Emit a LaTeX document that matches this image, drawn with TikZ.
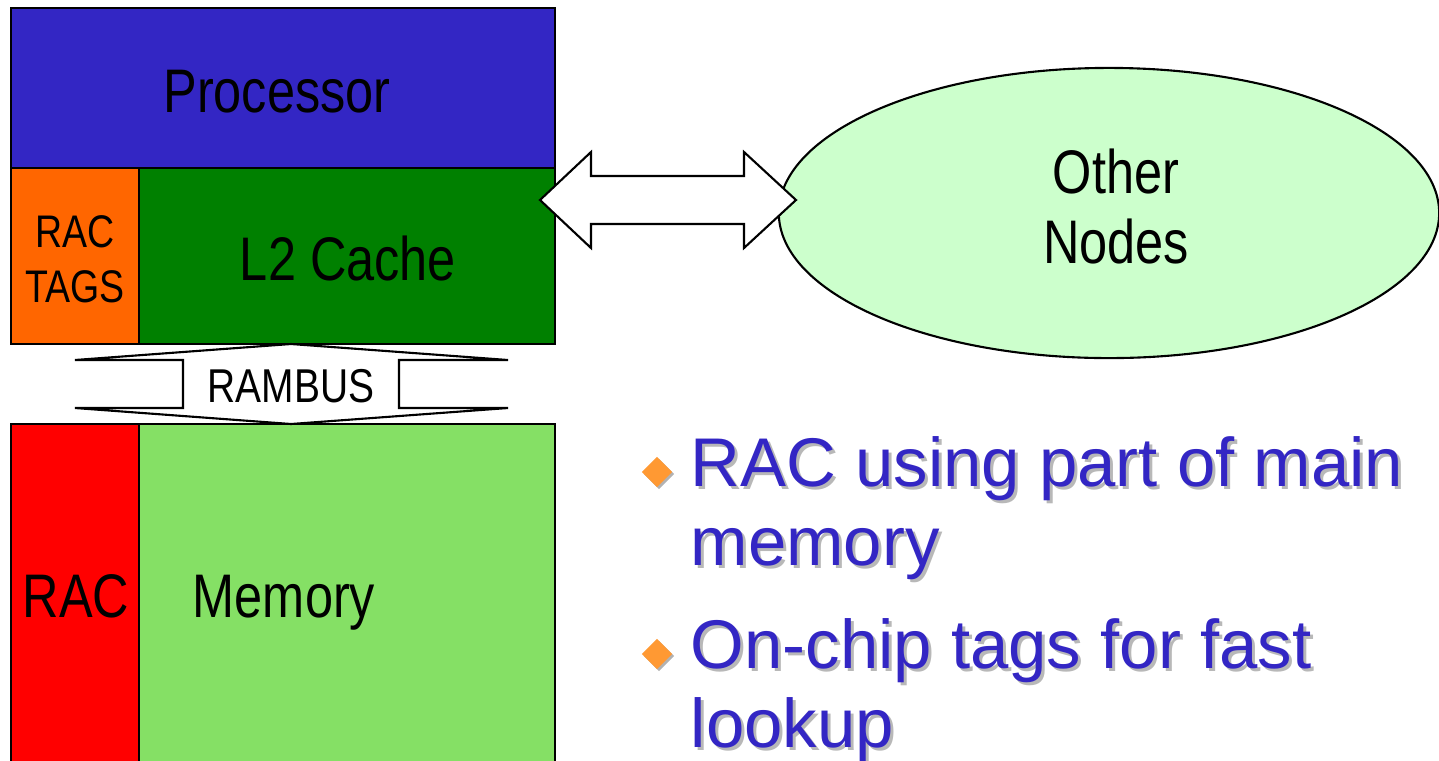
\documentclass[tikz,border=0pt]{standalone}
\usepackage{fontspec}
\setmainfont{Liberation Sans}
\newfontfamily\narrowfont[FakeStretch=0.82]{Liberation Sans}
\usepackage{tikz}
\usetikzlibrary{calc,shapes.geometric}
\definecolor{procblue}{RGB}{51,38,196}
\definecolor{tagorange}{RGB}{255,102,0}
\definecolor{cachegreen}{RGB}{0,128,0}
\definecolor{racred}{RGB}{255,0,0}
\definecolor{memgreen}{RGB}{133,224,101}
\definecolor{nodegreen}{RGB}{204,255,204}
\definecolor{bulletorange}{RGB}{255,153,51}

\begin{document}
\begin{tikzpicture}[x=0.01cm,y=-0.01cm,
    box/.style={draw=black, line width=0.6pt},
    blockarrow/.style={draw=black, fill=white, line width=0.6pt, line join=miter},
    biglbl/.style={font=\narrowfont\fontsize{17.5}{19.9}\selectfont, inner sep=0pt, anchor=base, align=center},
    smalllbl/.style={font=\narrowfont\fontsize{13}{15.6}\selectfont, inner sep=0pt, anchor=base, align=center},
    bullettext/.style={font=\fontsize{19.6}{22.2}\selectfont, inner sep=0pt, anchor=base west, align=left},
    dot/.style={diamond, inner sep=0pt, minimum size=8.8pt}]
  \useasboundingbox (0,0) rectangle (1439,760);

  %% Chip: processor, tags and L2 cache
  \draw[box, fill=procblue]   (11,8)    rectangle (555,168);
  \draw[box, fill=tagorange]  (11,168)  rectangle (139,344);
  \draw[box, fill=cachegreen] (139,168) rectangle (555,344);
  \node[biglbl]   (proc) at (277,112) {Processor};
  \node[smalllbl] (tags) at (75,302)  {RAC\\TAGS};
  \node[biglbl]   (ltwo) at (348,280) {L2 Cache};

  %% Main memory with the RAC part
  \draw[box, fill=racred]   (11,424)  rectangle (139,762);
  \draw[box, fill=memgreen] (139,424) rectangle (555,762);
  \node[biglbl] (rac) at (76,617)  {RAC};
  \node[biglbl] (mem) at (284,617) {Memory};

  %% Other nodes
  \node[ellipse, box, fill=nodegreen, minimum width=6.6cm, minimum height=2.9cm] (other) at (1109,213) {};
  \node[biglbl] (otherlbl) at (1116,263) {Other\\Nodes};

  %% Block arrows
  \coordinate (ltwoport)  at (540,200);
  \coordinate (otherport) at (796,200);
  \draw[blockarrow] (ltwoport) -- ++(51,-48) -- ++(0,24) -- ++(153,0) -- ++(0,-24)
    -- (otherport) -- ++(-52,48) -- ++(0,-24) -- ++(-153,0) -- ++(0,24) -- cycle;

  \coordinate (ltwobottom) at (291,344);
  \coordinate (memtop)     at (291,424);
  \draw[blockarrow] (ltwobottom) -- ++(217,16) -- ++(-109,0) -- ++(0,48) -- ++(109,0)
    -- (memtop) -- ++(-216,-16) -- ++(108,0) -- ++(0,-48) -- ++(-108,0) -- cycle;
  \node[smalllbl, font=\narrowfont\fontsize{13.5}{16}\selectfont] (rambus) at (291,402) {RAMBUS};

  %% Bullet points
  \foreach \y/\txt [count=\i] in {487/{RAC using part of main\\memory}, 669/{On-chip tags for fast\\lookup}}
  {
    \node[dot, fill=black!30] (dotshadow\i) at ($(657,\y)+(2,-13)$) {};
    \node[dot, fill=bulletorange] (dot\i) at ($(657,\y)+(0,-15)$) {};
    \node[bullettext, text=black!28] (itemshadow\i) at (693,\y+81) {\txt};
    \node[bullettext, text=procblue] (item\i) at (690,\y+78) {\txt};
  }
\end{tikzpicture}
\end{document}
